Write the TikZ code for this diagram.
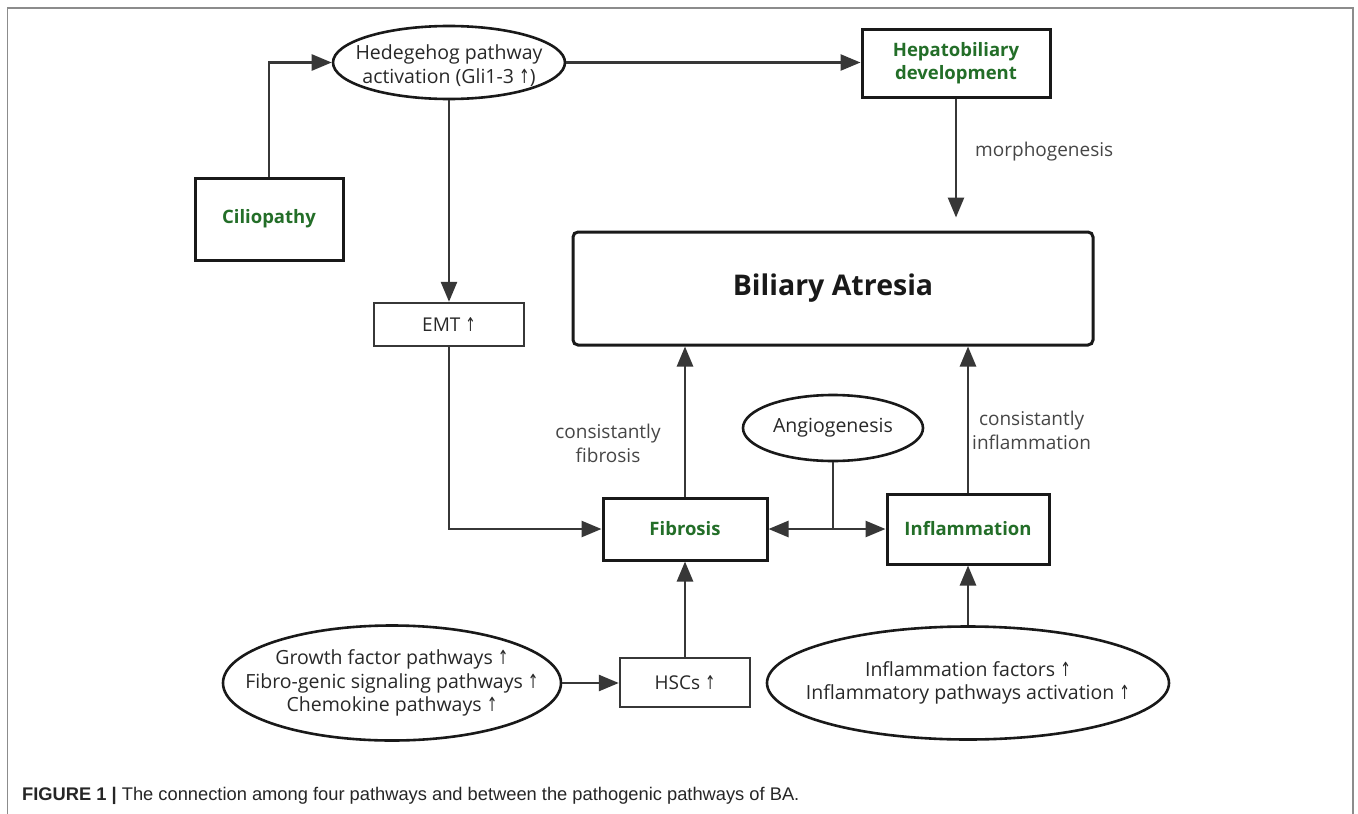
\documentclass[tikz,border=0pt]{standalone}
\usepackage{fontspec}
\setmainfont{Open Sans}
\newfontfamily\symfont{DejaVu Sans}
\newfontfamily\capfont{Liberation Sans}
\usetikzlibrary{arrows.meta,shapes.geometric,calc}
\definecolor{dgreen}{RGB}{35,110,40}
\definecolor{lnc}{RGB}{55,55,55}
\definecolor{txt}{RGB}{40,40,40}
\definecolor{lbl}{RGB}{70,70,70}
\newcommand{\upar}{{\symfont\scalebox{0.65}[1]{↑}}}
\tikzset{
  boldbox/.style={draw=black!90, line width=3pt, rectangle, inner sep=0pt, align=center,
     text=dgreen, font=\fontsize{18.5}{23}\selectfont\bfseries},
  thinbox/.style={draw=lnc, line width=2.4pt, rectangle, inner sep=0pt, align=center,
     text=txt, font=\fontsize{19}{23}\selectfont},
  oval/.style={draw=black!90, line width=2.6pt, ellipse, inner sep=0pt},
  ovaltext/.style={text=txt, align=center, inner sep=0pt, font=\fontsize{19.5}{23.5}\selectfont},
  conn/.style={draw=lnc, line width=2.6pt, -{Triangle[length=20pt,width=16pt]}},
  plain/.style={draw=lnc, line width=2.6pt},
  lab/.style={text=lbl, align=center, inner sep=0pt, font=\fontsize{19}{24}\selectfont}
}
\begin{document}
\begin{tikzpicture}[x=1pt,y=-1pt]
\useasboundingbox (0,0) rectangle (1358,814);
\fill[white] (0,0) rectangle (1358,814);
% frame
\draw[black!45, line width=1.5pt] (7.5,814) -- (7.5,8) -- (1353,8) -- (1353,814);

% nodes
\node[oval, minimum width=232pt, minimum height=73pt,
  label={[ovaltext, yshift=-3pt]center:Hedegehog pathway\\activation (Gli1-3 \upar)}] (hh) at (449,62.5) {};
\node[boldbox, minimum width=148pt, minimum height=82pt] (cil) at (269,219) {Ciliopathy};
\node[boldbox, minimum width=188pt, minimum height=68pt] (hep) at (956,63)
  {Hepatobiliary\\development};
\node[draw=black!90, line width=3pt, rectangle, rounded corners=5pt,
  minimum width=520pt, minimum height=113pt, inner sep=0pt,
  font=\fontsize{28.5}{30}\selectfont\bfseries, text=black!90] (ba) at (833,288.5) {Biliary Atresia};
\node[thinbox, minimum width=150pt, minimum height=43pt] (emt) at (449,324.5) {EMT \upar};
\node[boldbox, minimum width=164pt, minimum height=62pt] (fib) at (685,529) {Fibrosis};
\node[boldbox, minimum width=162pt, minimum height=70pt] (inf) at (968,529) {Inflammation};
\node[oval, minimum width=180pt, minimum height=66pt,
  label={[ovaltext]center:Angiogenesis}] (ang) at (833,428) {};
\node[thinbox, minimum width=130pt, minimum height=49pt] (hsc) at (685,682.5) {HSCs \upar};
\node[oval, minimum width=338pt, minimum height=115pt,
  label={[ovaltext]center:Growth factor pathways \upar\\Fibro-genic signaling pathways \upar\\Chemokine pathways \upar}] (gf) at (392,683) {};
\node[oval, minimum width=402pt, minimum height=113pt,
  label={[ovaltext]center:Inflammation factors \upar\\Inflammatory pathways activation \upar}] (ifl) at (968,683) {};

% labels
\node[lab, anchor=west] (morph) at (975,152) {morphogenesis};
\node[lab] (cfib) at (608,443) {consistantly\\fibrosis};
\node[lab, anchor=west] (cinf) at (972,430) {consistantly\\inflammation};

% connectors
\draw[conn] (cil.north) |- (hh.west);
\draw[conn] (hh.east) -- (hh.east -| hep.west);
\draw[conn] (hh.south) -- (emt.north);
\draw[conn] (emt.south) |- (fib.west);
\draw[conn, shorten >=13pt] (hep.south) -- (hep.south |- ba.north);
\draw[conn] (fib.north) -- (fib.north |- ba.south);
\draw[conn] (inf.north) -- (inf.north |- ba.south);
\coordinate (j) at (ang.south |- fib.east);
\draw[plain] (ang.south) -- (j);
\draw[conn] (j) -- (fib.east);
\draw[conn] (j) -- (inf.west);
\draw[conn] (hsc.north) -- (fib.south);
\draw[conn] (gf.east) -- (gf.east -| hsc.west);
\draw[conn] (ifl.north) -- (inf.south);

% caption
\node[anchor=base west, inner sep=0pt, text=black!85, font=\capfont\fontsize{18.3}{20}\selectfont] (cap) at (22,800)
  {\textbf{FIGURE 1 \textbar}\ The connection among four pathways and between the pathogenic pathways of BA.};
\end{tikzpicture}
\end{document}
